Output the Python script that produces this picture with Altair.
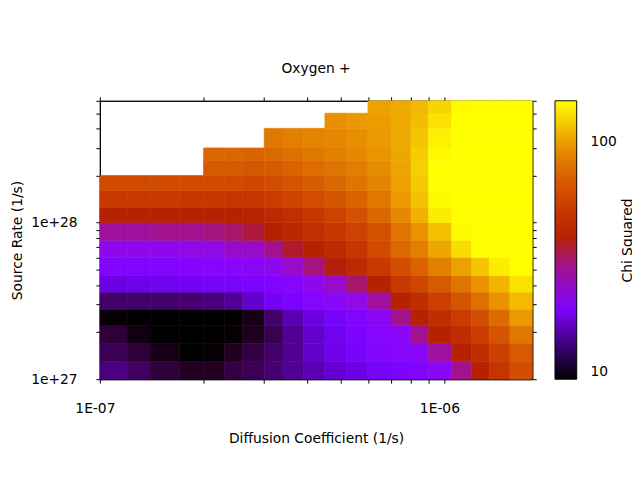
import math

import altair as alt
import pandas as pd

chart_title = "Oxygen +"
x_title = "Diffusion Coefficient (1/s)"
y_title = "Source Rate (1/s)"
color_title = "Chi Squared"

# cell edges: diffusion coefficient in units of 1e-7 1/s
diff_edges = [1, 1.2, 1.4, 1.7, 2, 2.3, 2.6, 3, 3.4, 3.9, 4.5, 5.2, 6, 7, 8, 9, 10.5, 12, 13.5, 15.5, 18]
# cell edges: source rate in units of 1e27 1/s
rate_edges = [1, 1.3, 1.7, 2.2, 2.8, 3.6, 4.6, 6, 7.7, 10, 12.5, 16, 20, 25, 30, 40, 50, 60]

# chi squared per cell, top row first (None = no fit)
chi_rows = [
    [None] * 12 + [102, 106, 114, 128, 148, 160, 165, 170],
    [None] * 10 + [94, 97, 100, 106, 116, 135, 152, 160, 165, 170],
    [None] * 7 + [82, 85, 88, 90, 93, 98, 106, 120, 142, 156, 160, 165, 170],
    [None] * 4 + [74, 74, 72, 75, 78, 82, 86, 90, 96, 105, 124, 148, 158, 162, 166, 170],
    [None] * 4 + [68, 68, 66, 68, 72, 76, 80, 85, 92, 104, 125, 152, 160, 163, 167, 170],
    [60, 60, 60, 60, 60, 60, 58, 61, 65, 69, 74, 80, 88, 102, 122, 150, 160, 163, 167, 170],
    [52, 52, 52, 51, 51, 50, 50, 53, 57, 61, 66, 72, 82, 98, 118, 148, 158, 162, 166, 170],
    [40, 40, 40, 40, 40, 40, 41, 44, 47, 51, 56, 63, 74, 90, 110, 140, 155, 160, 165, 168],
    [29, 29, 30, 30, 31, 32, 35, 39, 43, 47, 51, 56, 63, 80, 95, 118, 148, 156, 161, 165],
    [23, 23, 23, 24, 24, 26, 26, 30, 36, 40, 44, 50, 60, 75, 85, 105, 132, 150, 158, 162],
    [20, 20, 20, 20.5, 21, 21.5, 22, 23, 26, 31, 38, 44, 52, 62, 72, 86, 102, 120, 140, 152],
    [16, 16.5, 17, 17.5, 18, 18.5, 19, 20, 21, 23, 26, 32, 40, 52, 58, 68, 80, 95, 112, 135],
    [12, 12, 12, 12.2, 12.5, 13, 15, 17.5, 19, 21, 22, 24, 29, 40, 46, 55, 65, 78, 95, 115],
    [10.1, 10, 10, 10, 10, 10, 10.4, 12, 14, 16, 18, 20, 22, 30, 40, 46, 53, 62, 76, 98],
    [11, 10.3, 10, 10, 10, 10.1, 10.5, 11.5, 13, 15, 17, 19, 21, 22, 30, 40, 46, 54, 65, 82],
    [11.6, 11, 10.4, 10, 10.1, 10.6, 11.2, 12, 13, 14.8, 16.5, 18, 20, 21, 22, 29, 40, 46, 55, 68],
    [12.6, 11.8, 11, 10.6, 10.6, 11.2, 11.6, 12.2, 13, 14, 15.2, 16.3, 18, 19, 20, 22, 30, 40, 50, 62],
]

x_ticks = [1e-7, 2e-7, 3e-7, 4e-7, 5e-7, 6e-7, 7e-7, 8e-7, 9e-7, 1e-6]
y_ticks = [1e27, 2e27, 3e27, 4e27, 5e27, 6e27, 7e27, 8e27, 9e27,
           1e28, 2e28, 3e28, 4e28, 5e28, 6e28]
cb_min, cb_max = 10, 150

records = []
for ri, row in enumerate(reversed(chi_rows)):
    for ci, v in enumerate(row):
        if v is None:
            continue
        records.append({
            "d0": diff_edges[ci] * 1e-7, "d1": diff_edges[ci + 1] * 1e-7,
            "r0": rate_edges[ri] * 1e27, "r1": rate_edges[ri + 1] * 1e27,
            "chi": v,
        })
df = pd.DataFrame(records)


# gnuplot default palette (rgbformulae 7,5,15)
def gp_color(f):
    r = math.sqrt(f)
    g = f ** 3
    b = max(0.0, math.sin(2 * math.pi * f))
    return "#%02x%02x%02x" % tuple(int(round(255 * c)) for c in (r, g, b))


n_stops = 41
pal_domain = [cb_min * (cb_max / cb_min) ** (i / (n_stops - 1)) for i in range(n_stops)]
pal_range = [gp_color(i / (n_stops - 1)) for i in range(n_stops)]

color_scale = alt.Scale(type="log", domain=pal_domain, range=pal_range,
                        clamp=True, interpolate="rgb")
# same colours for the cell outlines (hides seams); a distinct domain keeps
# this scale out of the colour legend
edge_scale = alt.Scale(type="log", domain=[round(d, 4) for d in pal_domain],
                       range=pal_range, clamp=True, interpolate="rgb")

x_scale = alt.Scale(type="log", domain=[1e-7, 1.8e-6], nice=False)
y_scale = alt.Scale(type="log", domain=[1e27, 6e28], nice=False)

x_labels = "datum.value < 1.5e-7 ? '1E-07' : (abs(datum.value - 1e-6) < 1e-8 ? '1E-06' : '')"
y_labels = "datum.value < 1.5e27 ? '1e+27' : (abs(datum.value - 1e28) < 1e26 ? '1e+28' : '')"

heat = alt.Chart(df).mark_rect(strokeWidth=0.6).encode(
    x=alt.X("d0:Q", scale=x_scale, title=x_title,
            axis=alt.Axis(values=x_ticks, labelExpr=x_labels, labelPadding=19,
                          labelOffset=-5, titlePadding=16)),
    x2="d1:Q",
    y=alt.Y("r0:Q", scale=y_scale, title=y_title,
            axis=alt.Axis(values=y_ticks, labelExpr=y_labels, labelPadding=19,
                          titlePadding=6)),
    y2="r1:Q",
    color=alt.Color(
        "chi:Q", scale=color_scale, title=None,
        legend=alt.Legend(
            type="gradient", orient="none", legendX=461, legendY=0,
            direction="vertical",
            values=[10, 100], gradientLength=282, gradientThickness=22,
            gradientStrokeColor="black", gradientStrokeWidth=1,
            labelOffset=14, labelBaseline="middle", padding=0,
            labelFontSize=14, labelColor="black",
        ),
    ),
    stroke=alt.Stroke("chi:Q", scale=edge_scale, legend=None),
)

# mirrored ticks on top and right, colorbar title sits on the right axis
mirror = alt.Chart(df).mark_rect(opacity=0).encode(
    x=alt.X("d0:Q", scale=x_scale, title=None,
            axis=alt.Axis(orient="top", values=x_ticks, labels=False)),
    x2="d1:Q",
    y=alt.Y("r0:Q", scale=y_scale, title=color_title,
            axis=alt.Axis(orient="right", values=y_ticks, labels=False,
                          titleAngle=270, titleX=97, titleY=141,
                          titleAlign="center", titleBaseline="middle")),
    y2="r1:Q",
)

chart = (
    alt.layer(heat, mirror)
    .resolve_axis(x="independent", y="independent")
    .properties(
        width=438, height=282,
        title=alt.TitleParams(chart_title, fontSize=14, fontWeight="normal",
                              color="black", offset=7, baseline="alphabetic"),
        autosize=alt.AutoSizeParams(type="none"),
        padding={"left": 93, "top": 91, "right": 101, "bottom": 91},
    )
    .configure(font="DejaVu Sans")
    .configure_view(stroke="black", strokeWidth=1)
    .configure_axis(
        grid=False, tickSize=4, tickColor="black", domainColor="black",
        labelFontSize=14, labelColor="black", labelFlush=False,
        labelOverlap=False, labelBound=False,
        titleFontSize=14, titleFontWeight="normal", titleColor="black",
    )
)

chart.save("out.html", embed_options={"renderer": "svg", "actions": False})
